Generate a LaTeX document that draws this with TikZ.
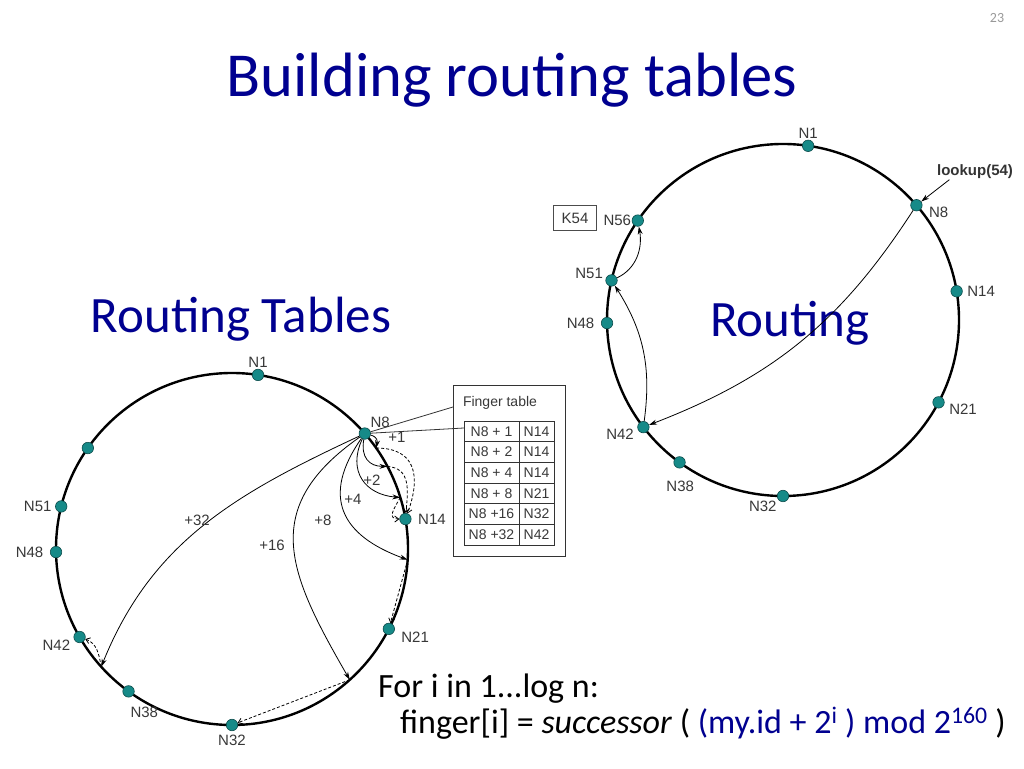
\documentclass[tikz,border=0pt]{standalone}
\usepackage{fontspec}
\setmainfont{Carlito}
\newfontfamily\diagfont{Liberation Sans}
\usetikzlibrary{arrows.meta}

\begin{document}
\begin{tikzpicture}[x=1pt, y=1pt,
        ringline/.style={draw=black, line width=2.4pt},
        dot/.style={circle, draw=tealc!55!black, fill=tealc, line width=0.6pt, minimum size=11.5pt, inner sep=0pt},
        nlab/.style={font=\diagfont\fontsize{15}{17}\selectfont, text=black!78, inner sep=0.5pt},
        tlab/.style={font=\diagfont\fontsize{14}{16}\selectfont, text=black!78, inner sep=0.5pt},
        hop/.style={draw=black, line width=0.8pt, -{Stealth[length=8pt, width=5pt]}},
        succ/.style={draw=black, line width=0.8pt, dash pattern=on 3pt off 2pt, -{Straight Barb[length=4pt, width=6pt]}},
        callout/.style={draw=black!80, line width=0.8pt},
        cell/.style={tlab, draw=black!80, line width=0.8pt, minimum height=20.7pt, inner sep=0pt},
        slide/.style={text=titleblue, inner sep=0pt},
      ]
      \definecolor{titleblue}{HTML}{000090}
      \definecolor{tealc}{HTML}{168A88}
      \def\rad{176}
      \path[fill=white, use as bounding box] (0,0) rectangle (1024,768);

      % headings
      \node[slide, anchor=base, font=\fontsize{62.6}{70}\selectfont] (title) at (512,671) {Building routing tables};
      \node[slide, anchor=base, font=\fontsize{51}{56}\selectfont] (tabhead) at (241,435) {Routing Tables};
      \node[slide, anchor=base, font=\fontsize{51}{56}\selectfont] (routehead) at (790,431) {Routing};
      \node[text=black!40, font=\fontsize{14}{16}\selectfont] (pagenum) at (997,750) {23};

      % left ring with fingers of N8
      \coordinate (lc) at (232,219);
      \draw[ringline] (lc) circle (\rad);
      \foreach \n/\ang/\lpos/\ldist in {1/81.5/90/1, 8/41/45/1, 14/9.8/0/6, 21/-27/-10/6, 32/-90/-90/3, 38/-126/-85/9, 42/-150/195/3, 48/-179/180/6, 51/166/180/3}
        \node[dot, label={[nlab, label distance=\ldist pt]\lpos:N\n}] (l\n) at ([shift={(\ang:\rad)}]lc) {};
      \node[dot] (l56) at ([shift={(145:\rad)}]lc) {};
      \foreach \k/\ang in {1/35, 2/28, 4/17, 8/-3.5, 16/-48, 32/222}
        \coordinate (e\k) at ([shift={(\ang:\rad)}]lc);

      \draw[hop] (l8) to[out=-15, in=80, looseness=1.3] (e1);
      \draw[hop] (l8) to[out=-100, in=180, looseness=1.3] (e2);
      \draw[hop] (l8) to[out=-115, in=175, looseness=1.3] (e4);
      \draw[hop] (l8) to[out=-125, in=160, looseness=1.4] (e8);
      \draw[hop] (l8) to[out=-145, in=120, looseness=1.3] (e16);
      \draw[hop] (l8) to[out=-155, in=68] (e32);
      \draw[succ] (e1) to[out=0, in=70, looseness=1.4] (l14);
      \draw[succ] (e2) to[out=-5, in=85, looseness=1.2] (l14);
      \draw[succ] (e4) to[out=-120, in=180, looseness=1.5] (l14);
      \draw[succ] (e8) -- (l21);
      \draw[succ] (e16) -- (l32);
      \draw[succ] (e32) to[out=100, in=-20] (l42);

      \node[nlab] (p1) at (397,331) {+1};
      \node[nlab] (p2) at (372,288) {+2};
      \node[nlab] (p4) at (353,269) {+4};
      \node[nlab] (p8) at (323,248) {+8};
      \node[nlab] (p16) at (272,223) {+16};
      \node[nlab] (p32) at (197,248) {+32};

      % finger table of N8
      \node[draw=black!80, line width=0.8pt, minimum width=112pt, minimum height=171pt, inner sep=0pt] (fbox) at (509,297.5) {};
      \node[tlab] (fhead) at (500,365) {Finger table};
      \foreach \lhs/\rhs [count=\i] in {N8 + 1/N14, N8 + 2/N14, N8 + 4/N14, N8 + 8/N21, N8 +16/N32, N8 +32/N42} {
        \node[cell, minimum width=55pt] (fk\i) at (491.5,{347-(\i-0.5)*20.67}) {\lhs};
        \node[cell, minimum width=35pt] (fv\i) at (536.5,{347-(\i-0.5)*20.67}) {\rhs};
      }
      \coordinate (fcall) at (453,361);
      \coordinate (fin) at (464,340);
      \draw[callout] (l8) -- (fcall);
      \draw[callout] (l8) -- (fin);

      % right ring: lookup(54)
      \coordinate (rc) at (783,448);
      \draw[ringline] (rc) circle (\rad);
      \foreach \n/\ang/\lpos/\ldist in {1/81.8/90/1, 8/40.7/-5/6, 14/9.4/0/4, 21/-27.9/-5/4, 32/-90/215/1, 38/-126/-88/12, 42/-142.5/190/3, 48/-179/180/6, 51/167/170/2, 56/145.6/180/0}
        \node[dot, label={[nlab, label distance=\ldist pt]\lpos:N\n}] (r\n) at ([shift={(\ang:\rad)}]rc) {};
      \node[nlab, draw=black!70, line width=0.7pt, minimum width=43pt, minimum height=25pt] (k54) at (575,550) {K54};
      \node[nlab, font=\diagfont\bfseries\fontsize{15}{17}\selectfont, text=black!80] (lookup) at (975,596) {lookup(54)};

      \draw[hop] ([xshift=13pt]lookup.south west) -- (r8);
      \draw[hop] (r8) to[bend left=18] (r42);
      \draw[hop] (r42) to[bend right=20] (r51);
      \draw[hop] (r51) to[out=25, in=-80] (r56);

      % rule for the fingers
      \node[anchor=base west, inner sep=0pt, font=\fontsize{34}{40}\selectfont] (rule1) at (378,71) {For i in 1...log n:};
      \node[anchor=base west, inner sep=0pt, font=\fontsize{34}{40}\selectfont] (rule2) at (400,35) {finger[i] = \textit{successor} ( \textcolor{titleblue}{(my.id + 2\textsuperscript{i} ) mod 2\textsuperscript{160}} )};
    \end{tikzpicture}
\end{document}
